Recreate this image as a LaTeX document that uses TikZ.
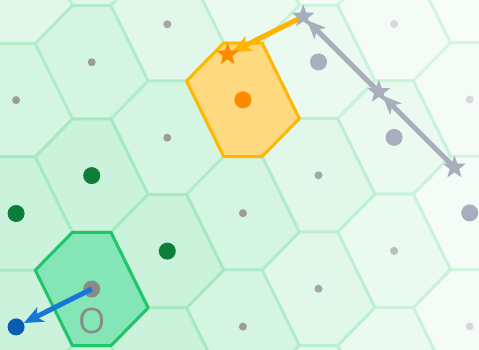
\documentclass[tikz,border=0pt]{standalone}
\usepackage{fontspec}
\newfontfamily\lblfont{Open Sans}
\usetikzlibrary{shapes.geometric,arrows.meta}
\definecolor{mint}{RGB}{46,204,113}
\definecolor{ofill}{HTML}{84E6B6}
\definecolor{oline}{HTML}{1FC46B}
\definecolor{yfill}{HTML}{FFD97F}
\definecolor{yline}{HTML}{FFB800}
\definecolor{slate}{HTML}{A9AEBD}
\definecolor{dgreen}{HTML}{0D7D3A}
\definecolor{dblue}{HTML}{0A5CB0}
\definecolor{lblue}{HTML}{1677D9}
\definecolor{dorange}{HTML}{FF8A00}
\definecolor{amber}{HTML}{FFB300}
\definecolor{gA}{HTML}{9C9C9C}
\definecolor{gB}{HTML}{A6A6A6}
\definecolor{gC}{HTML}{BCBCBC}
\definecolor{gD}{HTML}{DAD7DD}
\definecolor{gO}{HTML}{8A8A8A}
\pgfdeclarelayer{gridl}
\pgfdeclarelayer{arrl}
\pgfsetlayers{gridl,arrl,main}
\tikzset{
  hexcell/.pic={\path[pic actions] (-19.2,-56.7) -- (19.2,-56.7) -- (56.4,18.8) -- (19.2,56.7) -- (-19.2,56.7) -- (-56.4,-18.8) -- cycle;},
  smalldot/.style={circle,inner sep=0pt,minimum size=8pt,fill=#1},
  bigdot/.style={circle,inner sep=0pt,minimum size=17pt,fill=#1},
  starnode/.style={star,star points=5,star point ratio=2.4,inner sep=0pt,minimum size=24pt,fill=#1},
  arr/.style={line width=5pt,draw=#1,-{Stealth[length=19pt,width=16pt,inset=5pt]}},
}
\begin{document}
\begin{tikzpicture}[x=1pt,y=-1pt]
\useasboundingbox (0,0) rectangle (479,349);
\clip (0,0) rectangle (479,349);
\begin{pgfonlayer}{gridl}
\foreach \d in {7,...,0}{
  \foreach \i in {-1,...,5}{
    \foreach \j in {-4,...,2}{
      \pgfmathtruncatemacro\dd{(\i*\j>=0) ? max(abs(\i),abs(\j)) : abs(\i)+abs(\j)}
      \ifnum\dd=\d
        \pgfmathsetmacro\cy{289-37.9*\i+113.4*\j}
        \pgfmathsetmacro\cx{91.7+75.6*\i}
        \pgfmathtruncatemacro\ok{(\cy>-60)&&(\cy<410)}
        \ifnum\ok=1
          \pgfmathtruncatemacro\ff{max(30-5*\dd,4)}
          \pgfmathtruncatemacro\sf{max(50-6*\dd,18)}
          \colorlet{cf}{mint!\ff!white}
          \colorlet{cs}{mint!\sf!white}
          \pic[fill=cf,draw=cs,line width=2.8pt,line join=round] at (\cx,\cy) {hexcell};
        \fi
      \fi
    }
  }
}
\pic[fill=ofill,draw=oline,line width=3pt,line join=round] at (91.7,289) {hexcell};
\pic[fill=yfill,draw=yline,line width=3pt,line join=round] at (242.9,99.8) {hexcell};
\end{pgfonlayer}
% dots
\node[smalldot=gA] (d1) at (16.1,100.1) {};
\node[bigdot=dgreen] (g1) at (16.1,213.5) {};
\node[bigdot=dblue] (bl) at (16.1,326.9) {};
\node[smalldot=gA] (d2) at (91.7,62.2) {};
\node[bigdot=dgreen] (g2) at (91.7,175.6) {};
\node[bigdot=gO] (o) at (91.7,289) {};
\node[smalldot=gB] (d3) at (167.3,24.3) {};
\node[smalldot=gA] (d4) at (167.3,137.7) {};
\node[bigdot=dgreen] (g3) at (167.3,251.1) {};
\node[bigdot=dorange] (od) at (242.9,99.8) {};
\node[smalldot=gA] (d5) at (242.9,213.2) {};
\node[smalldot=gA] (d6) at (242.9,326.6) {};
\node[bigdot=slate] (b1) at (318.5,61.9) {};
\node[smalldot=gB] (d7) at (318.5,175.3) {};
\node[smalldot=gB] (d8) at (318.5,288.7) {};
\node[smalldot=gD] (d9) at (394.1,24) {};
\node[bigdot=slate] (b2) at (394.1,137.4) {};
\node[smalldot=gC] (d10) at (394.1,250.8) {};
\node[smalldot=gD] (d11) at (469.7,99.5) {};
\node[bigdot=slate] (b3) at (469.7,212.9) {};
\node[smalldot=gD] (d12) at (469.7,326.3) {};
% stars
\node[starnode=slate] (s1) at (303.2,16.5) {};
\node[starnode=slate] (s2) at (378.8,92) {};
\node[starnode=slate] (s3) at (454.4,167.5) {};
\node[starnode=dorange] (so) at (227.6,54.4) {};
% label
\node[text=gO,font=\lblfont\fontsize{35}{35}\selectfont,inner sep=0pt] (lbl) at (91.7,320.7) {O};
% arrows
\begin{pgfonlayer}{arrl}
\draw[arr=slate,shorten >=5pt] (s3.center) -- (s2.center);
\draw[arr=slate,shorten >=5pt] (s2.center) -- (s1.center);
\draw[arr=amber,shorten >=5pt] (s1.center) -- (so.center);
\end{pgfonlayer}
\draw[arr=lblue] (o.center) -- (bl);
\end{tikzpicture}
\end{document}
